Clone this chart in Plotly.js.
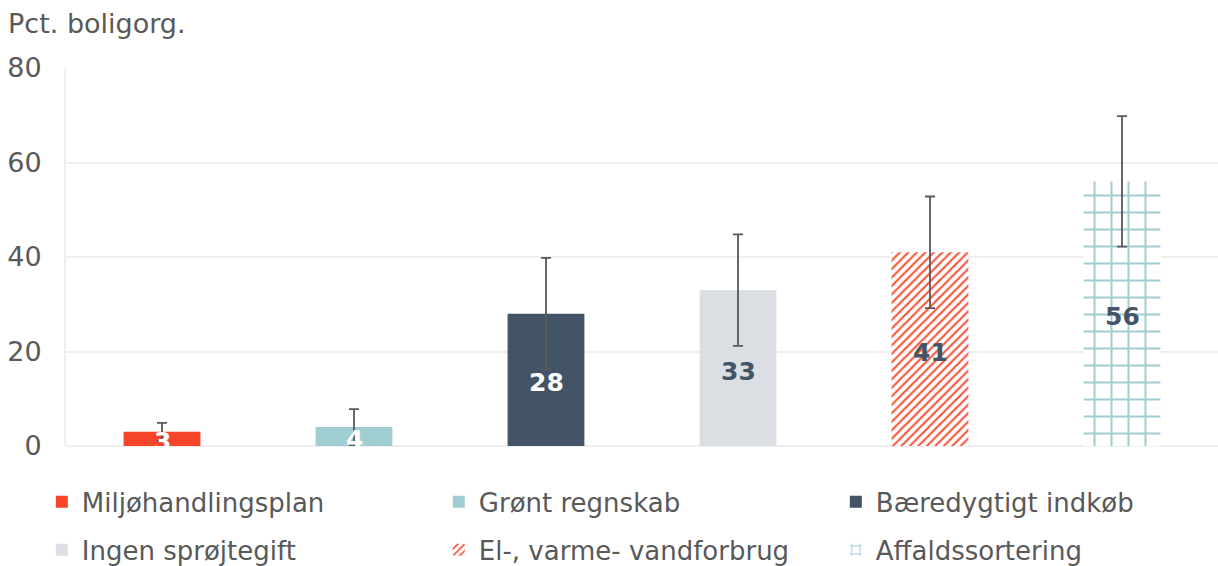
<!DOCTYPE html>
<html>
<head>
<meta charset="utf-8">
<script src="https://cdn.plot.ly/plotly-3.0.1.min.js"></script>
<style>html,body{margin:0;padding:0;background:#fff}#chart{width:1218px;height:566px}</style>
</head>
<body>
<div id="chart"></div>
<script>
// Data
const categories = ["Miljøhandlingsplan", "Grønt regnskab", "Bæredygtigt indkøb", "Ingen sprøjtegift", "El-, varme- vandforbrug", "Affaldssortering"];
const values = [3, 4, 28, 33, 41, 56];
const errors = [1.9, 3.8, 11.8, 11.8, 11.8, 13.8];
const labels = ["3", "4", "28", "33", "41", "56"];
const yTicks = [0, 20, 40, 60, 80];

// Styles
const colors = ["#F6452A", "#A0CDD2", "#425466", "#DBDFE3", "#F6452A", "#A0CDD2"];
const labelColors = ["#FFFFFF", "#FFFFFF", "#FFFFFF", "#425466", "#425466", "#425466"];
const patterns = [null, null, null, null,
  {shape: "/", fgcolor: "#F7553C", bgcolor: "#FFFFFF", size: 6, solidity: 0.36},
  {shape: "+", fgcolor: "#A0CDD2", bgcolor: "#FFFFFF", size: 17, solidity: 0.22}];
const FONT = "DejaVu Sans, Verdana, sans-serif";

const traces = categories.map((c, i) => {
  const marker = {color: colors[i], line: {width: 0}};
  if (patterns[i]) { marker.color = "#FFFFFF"; marker.pattern = patterns[i]; }
  return {
    type: "bar",
    name: c,
    x: [c],
    y: [values[i]],
    width: 0.4,
    marker: marker,
    error_y: {type: "data", array: [errors[i]], visible: true, color: "#595959", thickness: 1.8, width: 5},
    legend: i < 3 ? "legend" : "legend2",
    hoverinfo: "skip"
  };
});

// value labels, centred in each bar, drawn above the error bars
const valueLabels = categories.map((c, i) => ({
  xref: "x", yref: "y",
  x: c, y: values[i] / 2,
  text: "<b>" + labels[i] + "</b>",
  showarrow: false,
  xanchor: "center", yanchor: "middle",
  yshift: -3,
  font: {family: FONT, size: 25, color: labelColors[i]}
}));

const legendCommon = {
  orientation: "h",
  xanchor: "left",
  yanchor: "middle",
  x: -0.021,
  entrywidth: 352,
  entrywidthmode: "pixels",
  font: {family: FONT, size: 26, color: "#595959"},
  bgcolor: "rgba(0,0,0,0)",
  traceorder: "normal"
};

const layout = {
  width: 1218,
  height: 566,
  margin: {l: 66, r: 0, t: 68, b: 120, autoexpand: false},
  paper_bgcolor: "#FFFFFF",
  plot_bgcolor: "#FFFFFF",
  barmode: "overlay",
  showlegend: true,
  font: {family: FONT, color: "#595959"},
  xaxis: {
    type: "category",
    categoryorder: "array",
    categoryarray: categories,
    showticklabels: false,
    showgrid: false,
    zeroline: false,
    showline: false,
    ticks: ""
  },
  yaxis: {
    range: [0, 80],
    tickvals: yTicks,
    ticktext: yTicks.map(String),
    showgrid: true,
    gridcolor: "#EFEFEF",
    gridwidth: 2,
    zeroline: true,
    zerolinecolor: "#EFEFEF",
    zerolinewidth: 2,
    showline: true,
    linecolor: "#EFEFEF",
    linewidth: 2,
    ticks: "outside",
    ticklen: 17,
    tickcolor: "rgba(0,0,0,0)",
    tickfont: {family: FONT, size: 27, color: "#595959"}
  },
  legend: Object.assign({}, legendCommon, {y: -0.148}),
  legend2: Object.assign({}, legendCommon, {y: -0.275}),
  annotations: [{
    text: "Pct. boligorg.",
    xref: "paper", yref: "paper",
    x: -0.052, y: 1.0, xanchor: "left", yanchor: "bottom",
    yshift: 27,
    showarrow: false,
    font: {family: FONT, size: 27, color: "#595959"}
  }].concat(valueLabels)
};

Plotly.newPlot("chart", traces, layout, {displayModeBar: false, staticPlot: true});
</script>
</body>
</html>
